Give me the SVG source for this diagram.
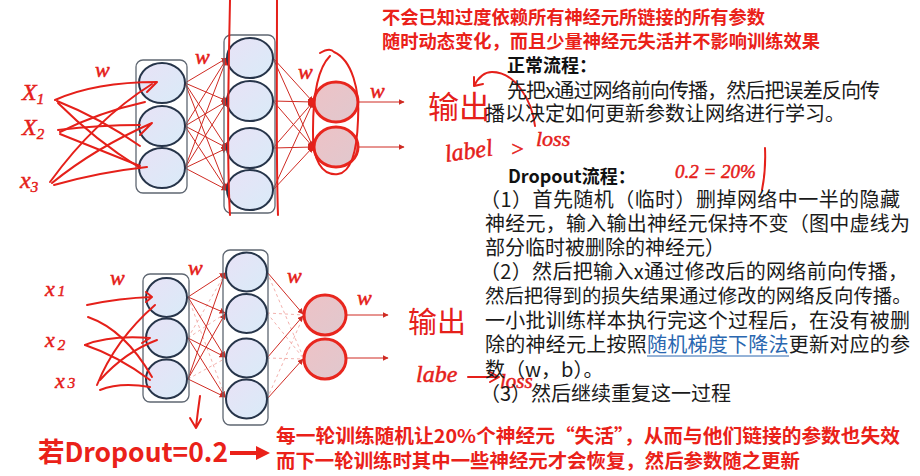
<svg xmlns="http://www.w3.org/2000/svg" width="920" height="476" viewBox="0 0 920 476">
<style>
.box{fill:none;stroke:#5f6772;stroke-width:1.3}
.n{fill:url(#ng);stroke:#27354a;stroke-width:2}
.o{fill:url(#og);stroke:#e8261e;stroke-width:3}
.c{stroke:#cf2a22;stroke-width:1;fill:none}
.cd{stroke:#f0a8a4;stroke-width:0.9;stroke-dasharray:3 3;fill:none}
.ink{stroke:#e5201a;stroke-width:2;fill:none;stroke-linecap:round;stroke-linejoin:round}
.hw{fill:#e5201a;stroke:#e5201a;stroke-width:0.5;font-family:"Liberation Serif",serif;font-style:italic}
.hz{fill:#e5201a;font-family:"Noto Sans CJK SC",sans-serif;font-weight:normal}
.t{fill:#1a1a1a;font-family:"Noto Sans CJK SC",sans-serif;font-size:20px}
.tb{fill:#111;font-family:"Noto Sans CJK SC",sans-serif;font-size:18px;font-weight:bold}
.rt{fill:#ea2119;font-family:"Noto Sans CJK SC",sans-serif;font-weight:bold}
</style>
<defs>
<linearGradient id="ng" x1="0" y1="0" x2="1" y2="1"><stop offset="0" stop-color="#e8e2f6"/><stop offset="1" stop-color="#d9ebf8"/></linearGradient>
<linearGradient id="og" x1="0" y1="0" x2="1" y2="1"><stop offset="0" stop-color="#eec2c6"/><stop offset="1" stop-color="#e0c8ce"/></linearGradient>
<marker id="a" viewBox="0 0 10 10" refX="9" refY="5" markerWidth="6" markerHeight="6" markerUnits="userSpaceOnUse" orient="auto"><path d="M0,0 L10,5 L0,10 z" fill="#cf2a22"/></marker>
</defs>

<!-- connectors -->
<g id="connectors">
  <g class="c" marker-end="url(#a)">
    <line x1="185" y1="83" x2="227" y2="58"/><line x1="185" y1="83" x2="227" y2="101"/><line x1="185" y1="83" x2="227" y2="148"/><line x1="185" y1="83" x2="227" y2="190"/>
    <line x1="185" y1="126" x2="227" y2="58"/><line x1="185" y1="126" x2="227" y2="101"/><line x1="185" y1="126" x2="227" y2="148"/><line x1="185" y1="126" x2="227" y2="190"/>
    <line x1="185" y1="168" x2="227" y2="58"/><line x1="185" y1="168" x2="227" y2="101"/><line x1="185" y1="168" x2="227" y2="148"/><line x1="185" y1="168" x2="227" y2="190"/>
    <line x1="273" y1="58" x2="313" y2="102"/><line x1="273" y1="58" x2="313" y2="147"/>
    <line x1="273" y1="101" x2="313" y2="102"/><line x1="273" y1="101" x2="313" y2="147"/>
    <line x1="273" y1="148" x2="313" y2="102"/><line x1="273" y1="148" x2="313" y2="147"/>
    <line x1="273" y1="190" x2="313" y2="102"/><line x1="273" y1="190" x2="313" y2="147"/>
    <line x1="359" y1="102" x2="404" y2="102"/><line x1="359" y1="147" x2="404" y2="147"/>
  </g>
  <g fill="#e5201a">
    <circle cx="226" cy="62" r="3.5"/><circle cx="226" cy="101" r="3.5"/><circle cx="226" cy="147" r="3.5"/><circle cx="226" cy="187" r="3.5"/>
    <circle cx="313" cy="102" r="4"/><circle cx="313" cy="147" r="4"/>
  </g>
  <g class="cd">
    <line x1="188" y1="297" x2="226" y2="399"/><line x1="188" y1="338" x2="226" y2="272"/><line x1="188" y1="338" x2="226" y2="313"/><line x1="188" y1="379" x2="226" y2="358"/>
    <line x1="267" y1="313" x2="304" y2="315"/><line x1="267" y1="313" x2="304" y2="359"/><line x1="267" y1="272" x2="304" y2="359"/><line x1="267" y1="399" x2="304" y2="315"/><line x1="267" y1="358" x2="304" y2="359"/>
  </g>
  <g class="c" marker-end="url(#a)">
    <line x1="188" y1="297" x2="225" y2="273"/><line x1="188" y1="297" x2="225" y2="313"/><line x1="188" y1="297" x2="225" y2="357"/>
    <line x1="188" y1="338" x2="225" y2="357"/><line x1="188" y1="338" x2="225" y2="397"/>
    <line x1="188" y1="379" x2="225" y2="273"/><line x1="188" y1="379" x2="225" y2="314"/><line x1="188" y1="379" x2="225" y2="397"/>
    <line x1="267" y1="272" x2="303" y2="314"/><line x1="267" y1="358" x2="303" y2="316"/><line x1="267" y1="399" x2="303" y2="359"/>
    <line x1="346" y1="315" x2="388" y2="315"/><line x1="346" y1="358" x2="388" y2="358"/>
  </g>
</g>

<!-- top network -->
<g id="top-layer1">
  <rect class="box" x="136" y="60" width="51" height="133" rx="7"/>
  <ellipse class="n" cx="162" cy="83" rx="23" ry="20"/>
  <ellipse class="n" cx="162" cy="126" rx="23" ry="20"/>
  <ellipse class="n" cx="162" cy="168" rx="23" ry="20"/>
</g>
<g id="top-layer2">
  <rect class="box" x="224" y="35" width="51" height="178" rx="7"/>
  <ellipse class="n" cx="250" cy="58" rx="23" ry="20"/>
  <ellipse class="n" cx="250" cy="101" rx="23" ry="20"/>
  <ellipse class="n" cx="250" cy="148" rx="23" ry="20"/>
  <ellipse class="n" cx="250" cy="190" rx="23" ry="20"/>
</g>
<g id="top-output">
  <ellipse class="o" cx="336" cy="102" rx="22" ry="20"/>
  <ellipse class="o" cx="336" cy="147" rx="22" ry="20"/>
</g>

<!-- bottom network -->
<g id="bottom-layer1">
  <rect class="box" x="143" y="274" width="46" height="128" rx="7"/>
  <ellipse class="n" cx="166.5" cy="297.5" rx="20.5" ry="19.5"/>
  <ellipse class="n" cx="166.5" cy="338" rx="20.5" ry="19.5"/>
  <ellipse class="n" cx="166.5" cy="379" rx="20.5" ry="19.5"/>
</g>
<g id="bottom-layer2">
  <rect class="box" x="223" y="250" width="45" height="175" rx="7"/>
  <ellipse class="n" cx="246.5" cy="272" rx="20.5" ry="19.5"/>
  <ellipse class="n" cx="246.5" cy="313.5" rx="20.5" ry="19.5"/>
  <ellipse class="n" cx="246.5" cy="358" rx="20.5" ry="19.5"/>
  <ellipse class="n" cx="246.5" cy="399" rx="20.5" ry="19.5"/>
</g>
<g id="bottom-output">
  <ellipse class="o" cx="325" cy="315" rx="21" ry="20"/>
  <ellipse class="o" cx="325" cy="359" rx="21" ry="20"/>
</g>

<!-- handwritten annotations -->
<g id="ink">
  <path class="ink" d="M55,100 Q95,82 157,82 L147,92"/>
  <path class="ink" d="M57,101 Q100,118 140,146"/>
  <path class="ink" d="M58,103 Q95,140 140,168"/>
  <path class="ink" d="M58,130 Q100,125 140,125"/>
  <path class="ink" d="M60,132 Q100,112 145,102"/>
  <path class="ink" d="M60,134 Q100,150 140,166"/>
  <path class="ink" d="M50,182 Q95,120 152,84"/>
  <path class="ink" d="M52,183 Q95,148 152,123 L140,135"/>
  <path class="ink" d="M54,185 Q100,172 147,167"/>
  <path class="ink" d="M230,215 C226,150 229,60 230,0 M277,0 C277,80 276,160 278,215"/>
  <path class="ink" d="M320,53 Q330,47 334,52 C352,60 360,90 358,120 C357,150 352,172 338,174 C322,176 312,160 313,130 C313,100 316,70 330,56"/>
  <path class="ink" d="M87,305 Q120,298 152,297 L146,292 M152,297 L146,302"/>
  <path class="ink" d="M88,317 Q125,330 152,377"/>
  <path class="ink" d="M85,345 Q110,335 150,338 L142,343"/>
  <path class="ink" d="M85,345 Q118,356 150,380"/>
  <path class="ink" d="M97,385 Q115,340 155,305"/>
  <path class="ink" d="M100,390 Q120,382 150,387"/>
  <path class="ink" d="M100,380 Q125,352 157,340"/>
  <path class="ink" d="M200,396 Q198,410 196,427 M190,418 L196,428 L201,419"/>
  <path class="ink" d="M535,126 C532,100 515,72 492,72 C484,72 478,78 474,86 M474,86 L474,77 M474,86 L483,84"/>
  <path class="ink" d="M468,377 L498,377 M490,372 L499,377 L490,382"/>
  <path class="ink" d="M765,148 Q766,170 762,190"/>
</g>
<g id="hand-text">
  <text class="hw" x="22" y="100" font-size="24">X<tspan font-size="15" dy="4">1</tspan></text>
  <text class="hw" x="22" y="135" font-size="24">X<tspan font-size="15" dy="4">2</tspan></text>
  <text class="hw" x="20" y="188" font-size="24">x<tspan font-size="15" dy="4">3</tspan></text>
  <text class="hw" x="45" y="296" font-size="22">x<tspan font-size="15" dx="3">1</tspan></text>
  <text class="hw" x="45" y="347" font-size="22">x<tspan font-size="15" dx="3" dy="3">2</tspan></text>
  <text class="hw" x="55" y="388" font-size="22">x<tspan font-size="15" dx="3">3</tspan></text>
  <text class="hw" x="95" y="77" font-size="22">w</text>
  <text class="hw" x="195" y="64" font-size="22">w</text>
  <text class="hw" x="298" y="79" font-size="22">w</text>
  <text class="hw" x="370" y="98" font-size="22">w</text>
  <text class="hw" x="110" y="285" font-size="22">w</text>
  <text class="hw" x="188" y="275" font-size="22">w</text>
  <text class="hw" x="287" y="283" font-size="22">w</text>
  <text class="hw" x="357" y="305" font-size="22">w</text>
  <text class="hz" x="428" y="118" font-size="31">输出</text>
  <text class="hw" x="446" y="162" font-size="24" transform="rotate(-8 446 162)">label</text>
  <text class="hw" x="510" y="156" font-size="22">&gt;</text>
  <text class="hw" x="536" y="146" font-size="22">loss</text>
  <text class="hz" x="408" y="333" font-size="29">输出</text>
  <text class="hw" x="416" y="382" font-size="24">labe</text>
  <text class="hw" x="500" y="388" font-size="21">loss</text>
  <text class="hw" x="675" y="178" font-size="19">0.2 = 20%</text>
</g>

<!-- right-hand text -->
<g id="notes">
  <text class="rt" x="382" y="24" font-size="18" textLength="383" lengthAdjust="spacingAndGlyphs">不会已知过度依赖所有神经元所链接的所有参数</text>
  <text class="rt" x="382" y="48" font-size="18" textLength="438" lengthAdjust="spacingAndGlyphs">随时动态变化，而且少量神经元失活并不影响训练效果</text>
  <text class="tb" x="507" y="72">正常流程：</text>
  <text class="t" x="507" y="98" textLength="373">先把x通过网络前向传播，然后把误差反向传</text>
  <text class="t" x="485" y="121">播以决定如何更新参数让网络进行学习。</text>
  <text class="tb" x="508" y="183">Dropout流程：</text>
  <text class="t" x="480" y="207" textLength="420">（1）首先随机（临时）删掉网络中一半的隐藏</text>
  <text class="t" x="485" y="231" textLength="425">神经元，输入输出神经元保持不变（图中虚线为</text>
  <text class="t" x="485" y="255">部分临时被删除的神经元）</text>
  <text class="t" x="480" y="279" textLength="428">（2）然后把输入x通过修改后的网络前向传播，</text>
  <text class="t" x="485" y="303" style="font-size:19.4px">然后把得到的损失结果通过修改的网络反向传播。</text>
  <text class="t" x="485" y="328" textLength="425">一小批训练样本执行完这个过程后，在没有被删</text>
  <text class="t" x="485" y="352" textLength="425">除的神经元上按照<tspan fill="#2a67b0">随机梯度下降法</tspan>更新对应的参</text>
  <line x1="647" y1="356" x2="789" y2="356" stroke="#2a67b0" stroke-width="1"/>
  <text class="t" x="485" y="377">数（w，b）。</text>
  <text class="t" x="480" y="401">（3）然后继续重复这一过程</text>
</g>

<!-- bottom banner -->
<g id="banner">
  <text class="rt" x="38" y="462" font-size="27" textLength="190" lengthAdjust="spacingAndGlyphs">若Dropout=0.2</text>
  <line x1="230" y1="453" x2="258" y2="453" stroke="#ea2119" stroke-width="4"/>
  <path d="M256,446 L270,453 L256,460 z" fill="#ea2119"/>
  <text class="rt" x="276" y="443" font-size="19" textLength="624" lengthAdjust="spacingAndGlyphs">每一轮训练随机让20%个神经元“失活”，从而与他们链接的参数也失效</text>
  <text class="rt" x="276" y="468" font-size="19" textLength="524" lengthAdjust="spacingAndGlyphs">而下一轮训练时其中一些神经元才会恢复，然后参数随之更新</text>
</g>
</svg>
